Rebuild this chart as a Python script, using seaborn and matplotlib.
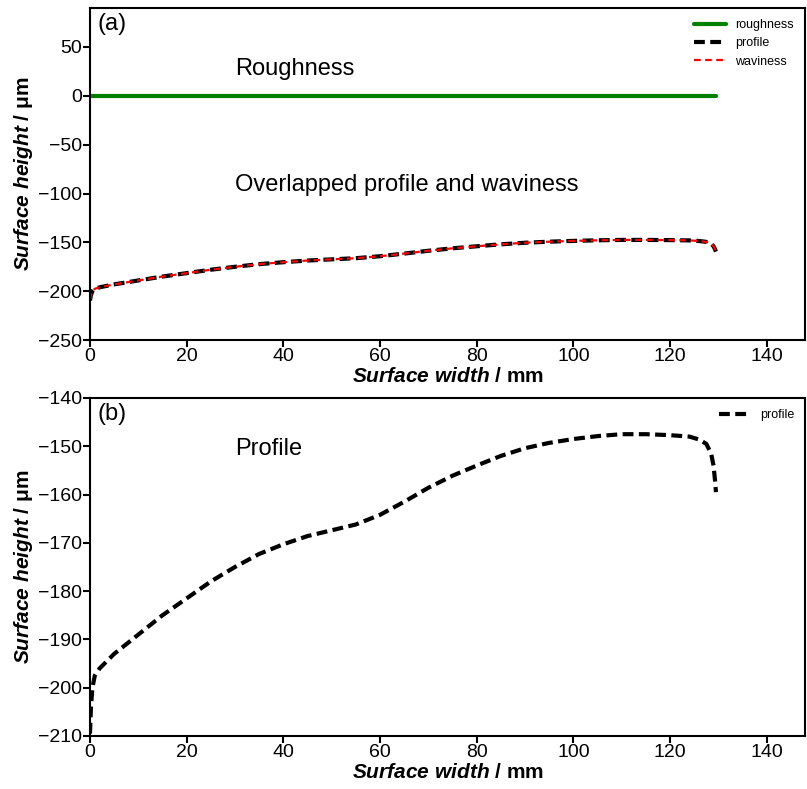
import matplotlib
matplotlib.use("Agg")
import matplotlib.pyplot as plt
import seaborn as sns

# values
width_mm = [0.0, 0.2, 0.5, 1.0, 2.0, 5.0, 10, 15, 20, 25, 30, 35, 40, 45, 50, 55,
            60, 65, 70, 75, 80, 85, 90, 95, 100, 105, 110, 115, 120, 124, 126,
            127.5, 128.5, 129.0, 129.3, 129.5]
profile_um = [-209.5, -204, -200, -197.5, -196, -193, -189, -185, -181.5, -178,
              -175, -172.3, -170.3, -168.6, -167.4, -166.2, -164.2, -161.5, -158.6,
              -156.1, -154, -152, -150.4, -149.3, -148.5, -147.9, -147.5, -147.5,
              -147.7, -148.0, -148.6, -149.5, -151.5, -154, -157, -159.5]
waviness_um = [-209.0, -204, -200, -197.5, -196, -193, -189, -185, -181.5, -178,
               -175, -172.3, -170.3, -168.6, -167.4, -166.2, -164.2, -161.5, -158.6,
               -156.1, -154, -152, -150.4, -149.3, -148.5, -147.9, -147.5, -147.5,
               -147.7, -148.0, -148.6, -149.5, -151.5, -154, -157, -159.0]
rough_x = [0.0, 129.5]
roughness_um = [0.0, 0.0]

sns.set_style("ticks")
plt.rcParams["font.family"] = ["Liberation Sans", "DejaVu Sans"]
plt.rcParams["mathtext.fontset"] = "custom"
plt.rcParams["mathtext.rm"] = "Liberation Sans"
plt.rcParams["mathtext.bf"] = "Liberation Sans:bold"
plt.rcParams["mathtext.bfit"] = "Liberation Sans:italic:bold"
plt.rcParams["mathtext.it"] = "Liberation Sans:italic"
for k in ("text.color", "axes.labelcolor", "xtick.color", "ytick.color",
          "axes.edgecolor"):
    plt.rcParams[k] = "black"

fig = plt.figure(figsize=(8.07, 7.89), dpi=100)
ax1 = fig.add_axes([0.1115, 0.569, 0.8865, 0.421])
ax2 = fig.add_axes([0.1115, 0.0672, 0.8865, 0.4284])

ylab = r"$\mathbfit{Surface\ height}$ / μm"
xlab = r"$\mathbfit{Surface\ width}$ / mm"
dash = (0, (2.6, 1.3))

# (a)
sns.lineplot(x=rough_x, y=roughness_um, ax=ax1, color="green", linewidth=3,
             label="roughness")
sns.lineplot(x=width_mm, y=profile_um, ax=ax1, color="black", linewidth=3,
             linestyle=dash, label="profile")
sns.lineplot(x=width_mm, y=waviness_um, ax=ax1, color="red", linewidth=1.6,
             linestyle=(0, (3, 2)), label="waviness")
ax1.set_xlim(0, 148)
ax1.set_ylim(-250, 90)
ax1.text(0.01, 0.985, "(a)", transform=ax1.transAxes, fontsize=17, va="top")
ax1.text(30, 27, "Roughness", fontsize=17, va="center")
ax1.text(30, -91, "Overlapped profile and waviness", fontsize=17, va="center")

# (b)
sns.lineplot(x=width_mm, y=profile_um, ax=ax2, color="black", linewidth=3,
             linestyle=dash, label="profile")
ax2.set_xlim(0, 148)
ax2.set_ylim(-210, -140)
ax2.text(0.01, 0.985, "(b)", transform=ax2.transAxes, fontsize=17, va="top")
ax2.text(30, -150.6, "Profile", fontsize=17, va="center")

for ax in (ax1, ax2):
    ax.set_ylabel(ylab, fontsize=15, fontweight="bold", labelpad=2)
    ax.set_xlabel(xlab, fontsize=15, fontweight="bold", labelpad=1)
    ax.tick_params(labelsize=14, width=1.5, length=5, pad=1)
    for s in ax.spines.values():
        s.set_visible(True)
        s.set_linewidth(1.5)
    ax.legend(loc="upper right", frameon=False, fontsize=9, handlelength=2.5)

fig.savefig("out.png", dpi=100)
